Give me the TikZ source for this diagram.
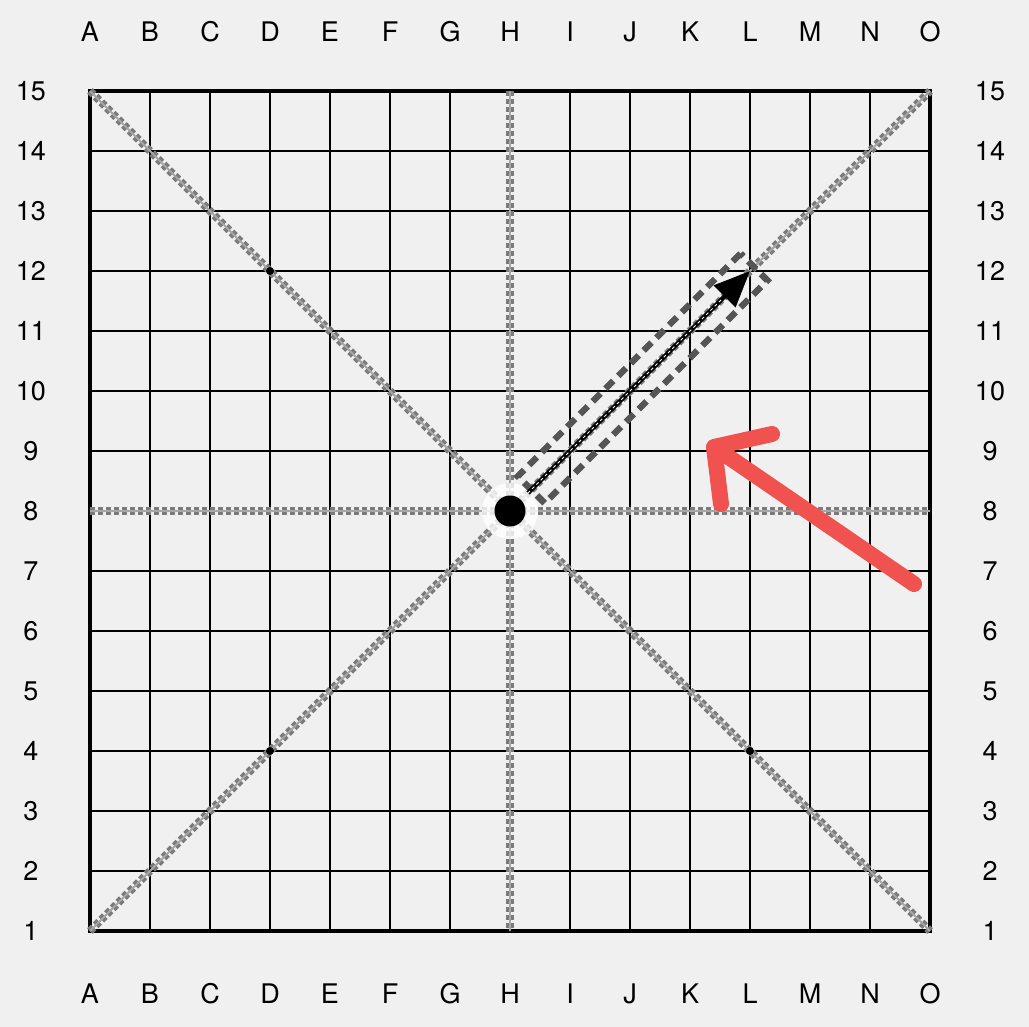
\documentclass[tikz,border=0pt]{standalone}
\usepackage{fontspec}
\setmainfont{TeX Gyre Heros}
\usetikzlibrary{arrows.meta}
\definecolor{bg}{HTML}{F0F0F0}
\definecolor{guide}{HTML}{7B7B7B}
\definecolor{guidecore}{HTML}{A6A6A6}
\definecolor{boxdash}{HTML}{555555}
\definecolor{redarrow}{HTML}{F0524F}
\begin{document}
\begin{tikzpicture}[x=1pt,y=-1pt,
  lbl/.style={font=\fontsize{27}{27}\selectfont, inner sep=0pt, text=black},
  gridline/.style={line width=2pt, black},
  guideline/.style={line width=8pt, guide, dash pattern=on 5pt off 3pt},
  guidemid/.style={line width=2pt, guidecore},
  starpt/.style={circle, fill=black, inner sep=0pt, minimum size=8pt}]
\fill[bg] (0,0) rectangle (1029,1027);
\useasboundingbox (0,0) rectangle (1029,1027);
% grid
\foreach \i in {0,...,14} \draw[gridline] (90+60*\i,91) -- (90+60*\i,931);
\foreach \r in {0,...,14} \draw[gridline] (90,91+60*\r) -- (930,91+60*\r);
\draw[line width=3.5pt] (90,91) rectangle (930,931);
% labels
\foreach \l [count=\i from 0] in {A,B,C,D,E,F,G,H,I,J,K,L,M,N,O} {
  \node[lbl] (top\l) at (90+60*\i,32) {\l};
  \node[lbl] (bot\l) at (90+60*\i,994) {\l};
}
\foreach \n in {1,...,15} {
  \node[lbl] (left\n) at (31,91+60*15-60*\n) {\n};
  \node[lbl] (right\n) at (990,91+60*15-60*\n) {\n};
}
% key points
\coordinate (A15) at (90,91);
\coordinate (O15) at (930,91);
\coordinate (A1) at (90,931);
\coordinate (O1) at (930,931);
\coordinate (H15) at (510,91);
\coordinate (H1) at (510,931);
\coordinate (A8) at (90,511);
\coordinate (O8) at (930,511);
\coordinate (L12) at (750,271);
% guide lines
\foreach \p/\q in {A15/O1, A1/O15, H15/H1, A8/O8} {
  \draw[guideline] (\p) -- (\q);
  \draw[guidemid] (\p) -- (\q);
}
% star points
\node[starpt] (D12) at (270,271) {};
\node[starpt] (D4) at (270,751) {};
\node[starpt] (L4) at (750,751) {};
% stone with halo
\fill[white, opacity=0.8] (510,511) circle (28);
\node[circle, fill=black, inner sep=0pt, minimum size=31pt] (stone) at (510,511) {};
% dashed box around arrow
\node[draw=boxdash, line width=6.5pt, dash pattern=on 11pt off 7pt, rotate=45,
  minimum width=315pt, minimum height=38pt, inner sep=0pt] (box) at (642.6,378.4) {};
% black arrow
\coordinate (astart) at (528,493);
\draw[line width=4.5pt, black, -{Triangle[length=36pt,width=30pt]}] (astart) -- (L12);
\draw[line width=1pt, white, dash pattern=on 3pt off 3pt, shorten >=38pt] (astart) -- (L12);
% red arrow
\coordinate (rtail) at (914,584);
\coordinate (rtip) at (714,447);
\coordinate (rh1) at (772,434);
\coordinate (rh2) at (721,504);
\draw[redarrow, line width=16pt, line cap=round, line join=round]
  (rtail) -- (rtip) (rh1) -- (rtip) -- (rh2);
\end{tikzpicture}
\end{document}
